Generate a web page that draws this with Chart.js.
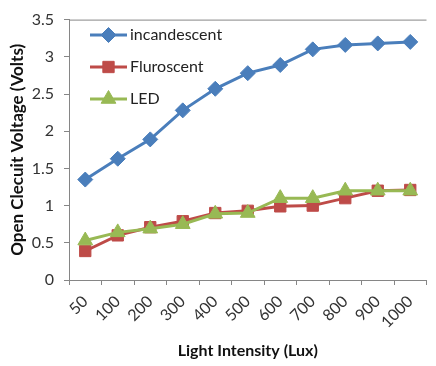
<!DOCTYPE html>
<html>
<head>
<meta charset="utf-8">
<script src="https://cdn.jsdelivr.net/npm/chart.js@4"></script>
<style>
html,body{margin:0;padding:0;background:#fff;}
#wrap{width:436px;height:366px;}
</style>
</head>
<body>
<div id="wrap"><canvas id="c" width="436" height="366"></canvas></div>
<script>
const categories = ["50","100","200","300","400","500","600","700","800","900","1000"];
const incandescent = [1.35,1.63,1.89,2.28,2.57,2.78,2.89,3.10,3.16,3.18,3.20];
const fluroscent = [0.39,0.60,0.71,0.79,0.90,0.93,0.99,1.00,1.10,1.20,1.21];
const led = [0.53,0.64,0.69,0.75,0.89,0.90,1.10,1.10,1.20,1.20,1.20];
const yTicks = [0,0.5,1,1.5,2,2.5,3,3.5];

const FONT = "Lato, 'Liberation Sans', sans-serif";

const legendPlugin = {
  id:'customLegend',
  afterDatasetsDraw(chart){
    const ctx = chart.ctx;
    const items = chart.data.datasets;
    const x0 = 90, x1 = 127, ys = [35,67,99];
    items.forEach((ds,i)=>{
      const y = ys[i];
      ctx.save();
      ctx.strokeStyle = ds.borderColor;
      ctx.lineWidth = ds.borderWidth;
      ctx.beginPath(); ctx.moveTo(x0,y); ctx.lineTo(x1,y); ctx.stroke();
      ctx.restore();
      ctx.save();
      ctx.fillStyle = ds.pointBackgroundColor;
      ctx.strokeStyle = ds.pointBorderColor;
      ctx.lineWidth = 1;
      Chart.helpers.drawPoint(ctx,{pointStyle:ds.pointStyle,radius:ds.pointRadius,rotation:0,borderWidth:1},(x0+x1)/2,y);
      ctx.restore();
      ctx.save();
      ctx.fillStyle = '#222';
      ctx.font = "16px " + FONT;
      ctx.textBaseline = 'middle';
      ctx.textAlign = 'left';
      ctx.fillText(ds.label, x1+3, y);
      ctx.restore();
    });
  }
};

const topLine = {
  id:'topLine',
  afterDraw(chart){
    const a = chart.chartArea, ctx = chart.ctx;
    ctx.save();
    ctx.strokeStyle = '#868686';
    ctx.lineWidth = 1;
    ctx.beginPath(); ctx.moveTo(a.left, a.top+0.5); ctx.lineTo(a.right, a.top+0.5); ctx.stroke();
    ctx.restore();
  }
};

function ds(label, data, color, style, r, order){
  return {label, data, order, borderColor:color, backgroundColor:color, borderWidth:3,
    pointStyle:style, pointRadius:r, pointBackgroundColor:color, pointBorderColor:color,
    pointBorderWidth:1, pointHoverRadius:r, tension:0};
}

new Chart(document.getElementById('c'),{
  type:'line',
  data:{labels:categories, datasets:[
    ds('incandescent', incandescent, '#4A7EBB', 'rectRot', 7.5, 0),
    ds('Fluroscent', fluroscent, '#BE4B48', 'rect', 8, 2),
    ds('LED', led, '#98B954', 'triangle', 8.5, 1)
  ]},
  options:{
    responsive:false, animation:false,
    events:[],
    layout:{padding:{top:14,right:0,left:0,bottom:0}},
    plugins:{legend:{display:false},tooltip:{enabled:false}},
    scales:{
      x:{
        offset:true,
        grid:{display:true, drawOnChartArea:false, drawTicks:true, tickLength:5, color:'#868686', offset:true},
        border:{display:true,color:'#868686',width:1},
        ticks:{font:{family:FONT,size:16},color:'#333',minRotation:45,maxRotation:45,padding:7,autoSkip:false},
        title:{display:true,text:'Light Intensity (Lux)',font:{family:FONT,size:16,weight:'bold'},color:'#111',padding:{top:0,bottom:6}},
        afterFit(s){ s.height = 86; }
      },
      y:{
        min:0,max:3.5,
        afterBuildTicks(s){ s.ticks = yTicks.map(v=>({value:v})); },
        grid:{display:true, drawOnChartArea:false, drawTicks:true, tickLength:5, color:'#868686'},
        border:{display:true,color:'#868686',width:1},
        ticks:{font:{family:FONT,size:16},color:'#333',padding:10,callback:v=>String(v)},
        title:{display:true,text:'Open Clecuit Voltage (Volts)',font:{family:FONT,size:17,weight:'bold'},color:'#111',padding:{top:7,bottom:0}},
        afterFit(s){ s.width = 69; }
      }
    }
  },
  plugins:[legendPlugin, topLine]
});
</script>
</body>
</html>
